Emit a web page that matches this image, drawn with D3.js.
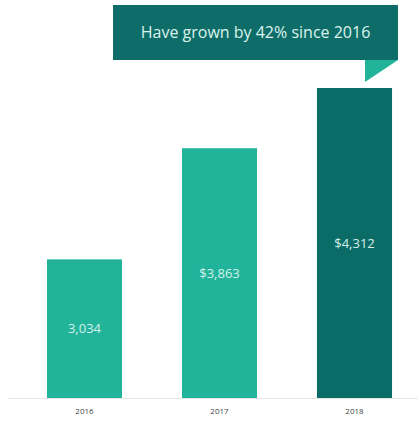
<!DOCTYPE html>
<html>
<head>
<meta charset="utf-8">
<script src="https://cdn.jsdelivr.net/npm/d3@7"></script>
<style>
  html, body { margin: 0; padding: 0; background: #ffffff; }
  svg { display: block; font-family: "Open Sans", "Noto Sans", sans-serif; }
</style>
</head>
<body>
<svg id="chart" width="418" height="421"></svg>
<script>
// Revenue by year
const years = ["2016", "2017", "2018"];
const revenue = [3034, 3863, 4312];
const valueLabels = ["3,034", "$3,863", "$4,312"];
const barColors = ["#22b49b", "#22b49b", "#0b6b66"];
const calloutText = "Have grown by 42% since 2016";

const svg = d3.select("#chart");
const baseline = 398;

const x = d3.scaleBand()
  .domain(years)
  .range([17, 422])
  .paddingInner(0.444)
  .paddingOuter(0.222);

const y = d3.scaleLinear()
  .domain([2000, 4312])
  .range([baseline, 88]);

// faint baseline
svg.append("line")
  .attr("x1", 8).attr("x2", 418)
  .attr("y1", baseline + 0.5).attr("y2", baseline + 0.5)
  .attr("stroke", "#e6e6e6").attr("stroke-width", 1);

// bars
svg.selectAll("rect.bar")
  .data(years)
  .join("rect")
  .attr("class", "bar")
  .attr("x", d => x(d))
  .attr("width", x.bandwidth())
  .attr("y", (d, i) => y(revenue[i]))
  .attr("height", (d, i) => baseline - y(revenue[i]))
  .attr("fill", (d, i) => barColors[i]);

// value labels centred in each bar
svg.selectAll("text.value")
  .data(years)
  .join("text")
  .attr("class", "value")
  .attr("x", d => x(d) + x.bandwidth() / 2)
  .attr("y", (d, i) => (y(revenue[i]) + baseline) / 2)
  .attr("dy", "0.35em")
  .attr("text-anchor", "middle")
  .attr("font-size", 13)
  .attr("fill", "#d3f1ea")
  .text((d, i) => valueLabels[i]);

// x axis labels
const xAxis = d3.axisBottom(x).tickSize(0).tickPadding(10);
const gx = svg.append("g")
  .attr("transform", `translate(0,${baseline})`)
  .call(xAxis);
gx.select(".domain").remove();
gx.selectAll("text")
  .attr("font-size", 8)
  .attr("font-family", "\"Open Sans\", \"Noto Sans\", sans-serif")
  .attr("fill", "#444444");

// callout banner with folded tail
const box = { x0: 113, x1: 398, y0: 5, y1: 60 };
svg.append("path")
  .attr("d", `M${box.x1 - 33},${box.y1} L${box.x1},${box.y1} L${box.x1 - 33},${box.y1 + 22} Z`)
  .attr("fill", "#22b49b");
svg.append("rect")
  .attr("x", box.x0).attr("y", box.y0)
  .attr("width", box.x1 - box.x0).attr("height", box.y1 - box.y0)
  .attr("fill", "#0e6d68");
svg.append("text")
  .attr("x", (box.x0 + box.x1) / 2)
  .attr("y", (box.y0 + box.y1) / 2)
  .attr("dy", "0.35em")
  .attr("text-anchor", "middle")
  .attr("font-size", 16)
  .attr("fill", "#dcf3ee")
  .text(calloutText);
</script>
</body>
</html>
